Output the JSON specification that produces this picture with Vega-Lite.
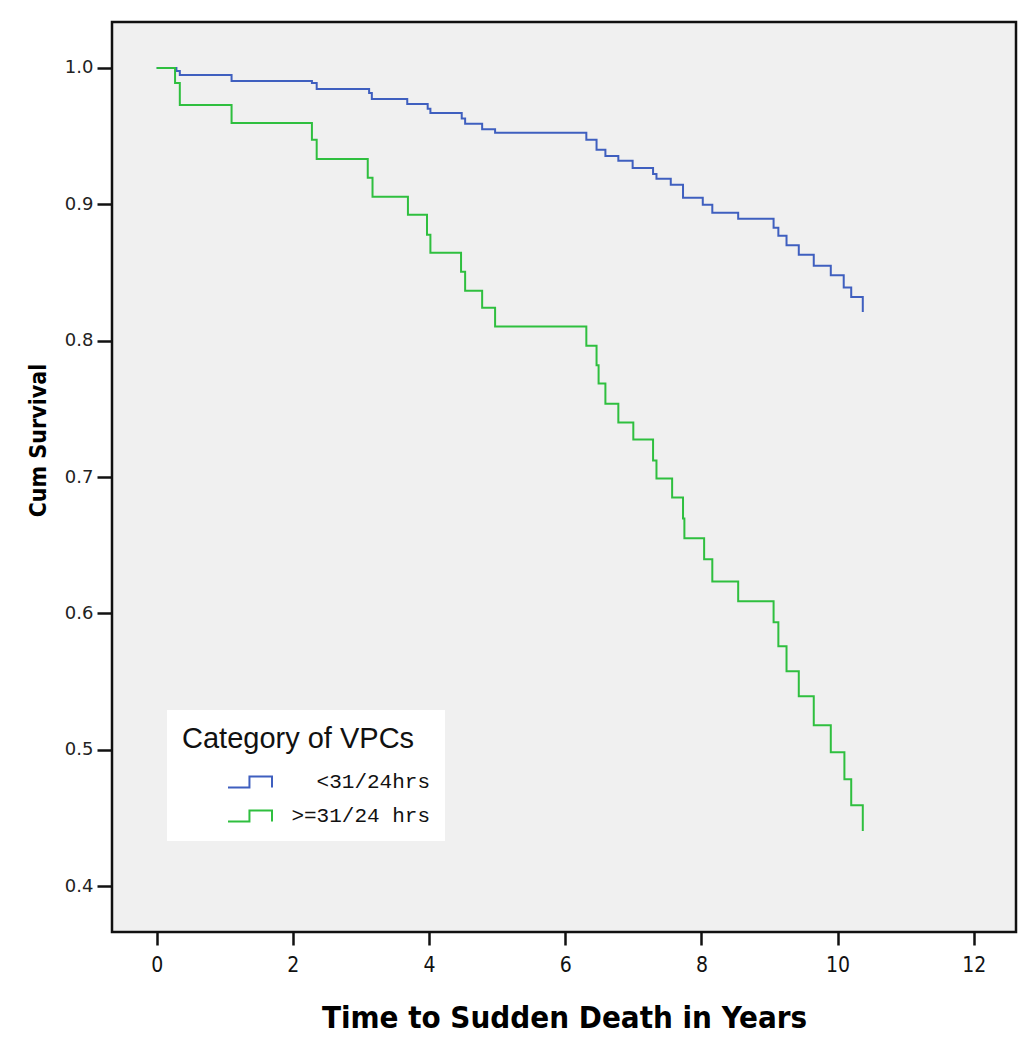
{
  "$schema": "https://vega.github.io/schema/vega-lite/v6.json",
  "width": 904,
  "height": 910,
  "autosize": {"type": "none"},
  "padding": {"left": 112, "top": 22, "right": 13, "bottom": 118},
  "background": "white",
  "config": {"view": {"fill": "#f0f0f0", "stroke": "#111111", "strokeWidth": 2.5}},
  "data": {"values": [
    {"group": "<31/24hrs", "time": 0, "surv": 1.0},
    {"group": "<31/24hrs", "time": 0.29, "surv": 0.9978},
    {"group": "<31/24hrs", "time": 0.34, "surv": 0.9949},
    {"group": "<31/24hrs", "time": 1.1, "surv": 0.9905},
    {"group": "<31/24hrs", "time": 2.28, "surv": 0.989},
    {"group": "<31/24hrs", "time": 2.35, "surv": 0.9846},
    {"group": "<31/24hrs", "time": 3.12, "surv": 0.9817},
    {"group": "<31/24hrs", "time": 3.16, "surv": 0.9773},
    {"group": "<31/24hrs", "time": 3.68, "surv": 0.9736},
    {"group": "<31/24hrs", "time": 3.98, "surv": 0.97},
    {"group": "<31/24hrs", "time": 4.02, "surv": 0.967},
    {"group": "<31/24hrs", "time": 4.48, "surv": 0.963},
    {"group": "<31/24hrs", "time": 4.53, "surv": 0.959},
    {"group": "<31/24hrs", "time": 4.78, "surv": 0.955},
    {"group": "<31/24hrs", "time": 4.97, "surv": 0.9524},
    {"group": "<31/24hrs", "time": 6.31, "surv": 0.9473},
    {"group": "<31/24hrs", "time": 6.46, "surv": 0.94},
    {"group": "<31/24hrs", "time": 6.59, "surv": 0.9355},
    {"group": "<31/24hrs", "time": 6.78, "surv": 0.9319},
    {"group": "<31/24hrs", "time": 6.99, "surv": 0.9267},
    {"group": "<31/24hrs", "time": 7.29, "surv": 0.9223},
    {"group": "<31/24hrs", "time": 7.34, "surv": 0.9187},
    {"group": "<31/24hrs", "time": 7.55, "surv": 0.9143},
    {"group": "<31/24hrs", "time": 7.73, "surv": 0.9048},
    {"group": "<31/24hrs", "time": 8.02, "surv": 0.8996},
    {"group": "<31/24hrs", "time": 8.16, "surv": 0.8938},
    {"group": "<31/24hrs", "time": 8.54, "surv": 0.8894},
    {"group": "<31/24hrs", "time": 9.06, "surv": 0.8828},
    {"group": "<31/24hrs", "time": 9.13, "surv": 0.877},
    {"group": "<31/24hrs", "time": 9.25, "surv": 0.87},
    {"group": "<31/24hrs", "time": 9.43, "surv": 0.863},
    {"group": "<31/24hrs", "time": 9.65, "surv": 0.855},
    {"group": "<31/24hrs", "time": 9.9, "surv": 0.848},
    {"group": "<31/24hrs", "time": 10.09, "surv": 0.839},
    {"group": "<31/24hrs", "time": 10.2, "surv": 0.832},
    {"group": "<31/24hrs", "time": 10.37, "surv": 0.821},
    {"group": ">=31/24 hrs", "time": 0, "surv": 1.0},
    {"group": ">=31/24 hrs", "time": 0.27, "surv": 0.989},
    {"group": ">=31/24 hrs", "time": 0.34, "surv": 0.9729},
    {"group": ">=31/24 hrs", "time": 1.1, "surv": 0.9597},
    {"group": ">=31/24 hrs", "time": 2.28, "surv": 0.9473},
    {"group": ">=31/24 hrs", "time": 2.35, "surv": 0.9333},
    {"group": ">=31/24 hrs", "time": 3.1, "surv": 0.9194},
    {"group": ">=31/24 hrs", "time": 3.17, "surv": 0.9055},
    {"group": ">=31/24 hrs", "time": 3.69, "surv": 0.8923},
    {"group": ">=31/24 hrs", "time": 3.97, "surv": 0.8777},
    {"group": ">=31/24 hrs", "time": 4.02, "surv": 0.8645},
    {"group": ">=31/24 hrs", "time": 4.47, "surv": 0.8505},
    {"group": ">=31/24 hrs", "time": 4.53, "surv": 0.8366},
    {"group": ">=31/24 hrs", "time": 4.78, "surv": 0.8242},
    {"group": ">=31/24 hrs", "time": 4.97, "surv": 0.8103},
    {"group": ">=31/24 hrs", "time": 6.31, "surv": 0.7963},
    {"group": ">=31/24 hrs", "time": 6.46, "surv": 0.782},
    {"group": ">=31/24 hrs", "time": 6.49, "surv": 0.7685},
    {"group": ">=31/24 hrs", "time": 6.59, "surv": 0.7538},
    {"group": ">=31/24 hrs", "time": 6.78, "surv": 0.74},
    {"group": ">=31/24 hrs", "time": 7.0, "surv": 0.7275},
    {"group": ">=31/24 hrs", "time": 7.29, "surv": 0.7121},
    {"group": ">=31/24 hrs", "time": 7.34, "surv": 0.6989},
    {"group": ">=31/24 hrs", "time": 7.57, "surv": 0.685},
    {"group": ">=31/24 hrs", "time": 7.73, "surv": 0.6696},
    {"group": ">=31/24 hrs", "time": 7.75, "surv": 0.655},
    {"group": ">=31/24 hrs", "time": 8.04, "surv": 0.6396},
    {"group": ">=31/24 hrs", "time": 8.16, "surv": 0.6234},
    {"group": ">=31/24 hrs", "time": 8.54, "surv": 0.6088},
    {"group": ">=31/24 hrs", "time": 9.06, "surv": 0.5934},
    {"group": ">=31/24 hrs", "time": 9.13, "surv": 0.5758},
    {"group": ">=31/24 hrs", "time": 9.25, "surv": 0.5575},
    {"group": ">=31/24 hrs", "time": 9.43, "surv": 0.5392},
    {"group": ">=31/24 hrs", "time": 9.65, "surv": 0.518},
    {"group": ">=31/24 hrs", "time": 9.9, "surv": 0.4982},
    {"group": ">=31/24 hrs", "time": 10.1, "surv": 0.4784},
    {"group": ">=31/24 hrs", "time": 10.2, "surv": 0.4593},
    {"group": ">=31/24 hrs", "time": 10.37, "surv": 0.4403}
  ]},
  "mark": {"type": "line", "interpolate": "step-after", "strokeWidth": 2},
  "encoding": {
    "x": {
      "field": "time", "type": "quantitative",
      "scale": {"domain": [-0.656, 12.62], "nice": false, "zero": false},
      "axis": {
        "values": [0, 2, 4, 6, 8, 10, 12],
        "title": "Time to Sudden Death in Years",
        "domain": false, "grid": false,
        "tickColor": "#111111", "tickWidth": 2.5, "tickSize": 13,
        "labelFont": "Liberation Sans Narrow, DejaVu Sans Condensed, Roboto Condensed, Liberation Sans, sans-serif",
        "labelFontSize": 21, "labelColor": "#111111", "labelPadding": 9,
        "titleFont": "Liberation Sans Narrow, DejaVu Sans Condensed, Roboto Condensed, Liberation Sans, sans-serif",
        "titleFontSize": 31, "titleFontWeight": "bold", "titleColor": "#000000",
        "titleY": 86, "titleBaseline": "middle"
      }
    },
    "y": {
      "field": "surv", "type": "quantitative",
      "scale": {"domain": [0.3663, 1.0337], "nice": false, "zero": false},
      "axis": {
        "values": [0.4, 0.5, 0.6, 0.7, 0.8, 0.9, 1.0],
        "format": ".1f",
        "title": "Cum Survival",
        "domain": false, "grid": false,
        "tickColor": "#111111", "tickWidth": 2.5, "tickSize": 15,
        "labelFont": "DejaVu Sans, Verdana, sans-serif", "labelFontSize": 18, "labelColor": "#222222", "labelPadding": 4,
        "titleFont": "Liberation Sans Narrow, DejaVu Sans Condensed, Roboto Condensed, Liberation Sans, sans-serif",
        "titleFontSize": 23, "titleFontWeight": "bold", "titleColor": "#000000",
        "titleX": -74, "titleY": 418, "titleBaseline": "middle"
      }
    },
    "color": {
      "field": "group", "type": "nominal",
      "scale": {"domain": ["<31/24hrs", ">=31/24 hrs"], "range": ["#3f5fbf", "#2fbf3f"]},
      "legend": {
        "orient": "none", "legendX": 55, "legendY": 688,
        "fillColor": "white", "padding": 15,
        "title": "Category of VPCs",
        "titleFont": "Liberation Sans, sans-serif", "titleFontSize": 29, "titleFontWeight": "normal", "titleColor": "#111111",
        "titlePadding": 16, "titleLimit": 0,
        "labelFont": "Liberation Mono, DejaVu Sans Mono, monospace", "labelFontSize": 21, "labelColor": "#111111", "labelLimit": 0,
        "labelAlign": "right",
        "symbolType": "M-2,0.5L-0.05,0.5L-0.05,-0.5L2,-0.5L2,0.5",
        "symbolSize": 484, "symbolStrokeWidth": 2, "symbolFillColor": "transparent",
        "symbolOffset": 56, "labelOffset": 168, "rowPadding": 12
      }
    }
  }
}
